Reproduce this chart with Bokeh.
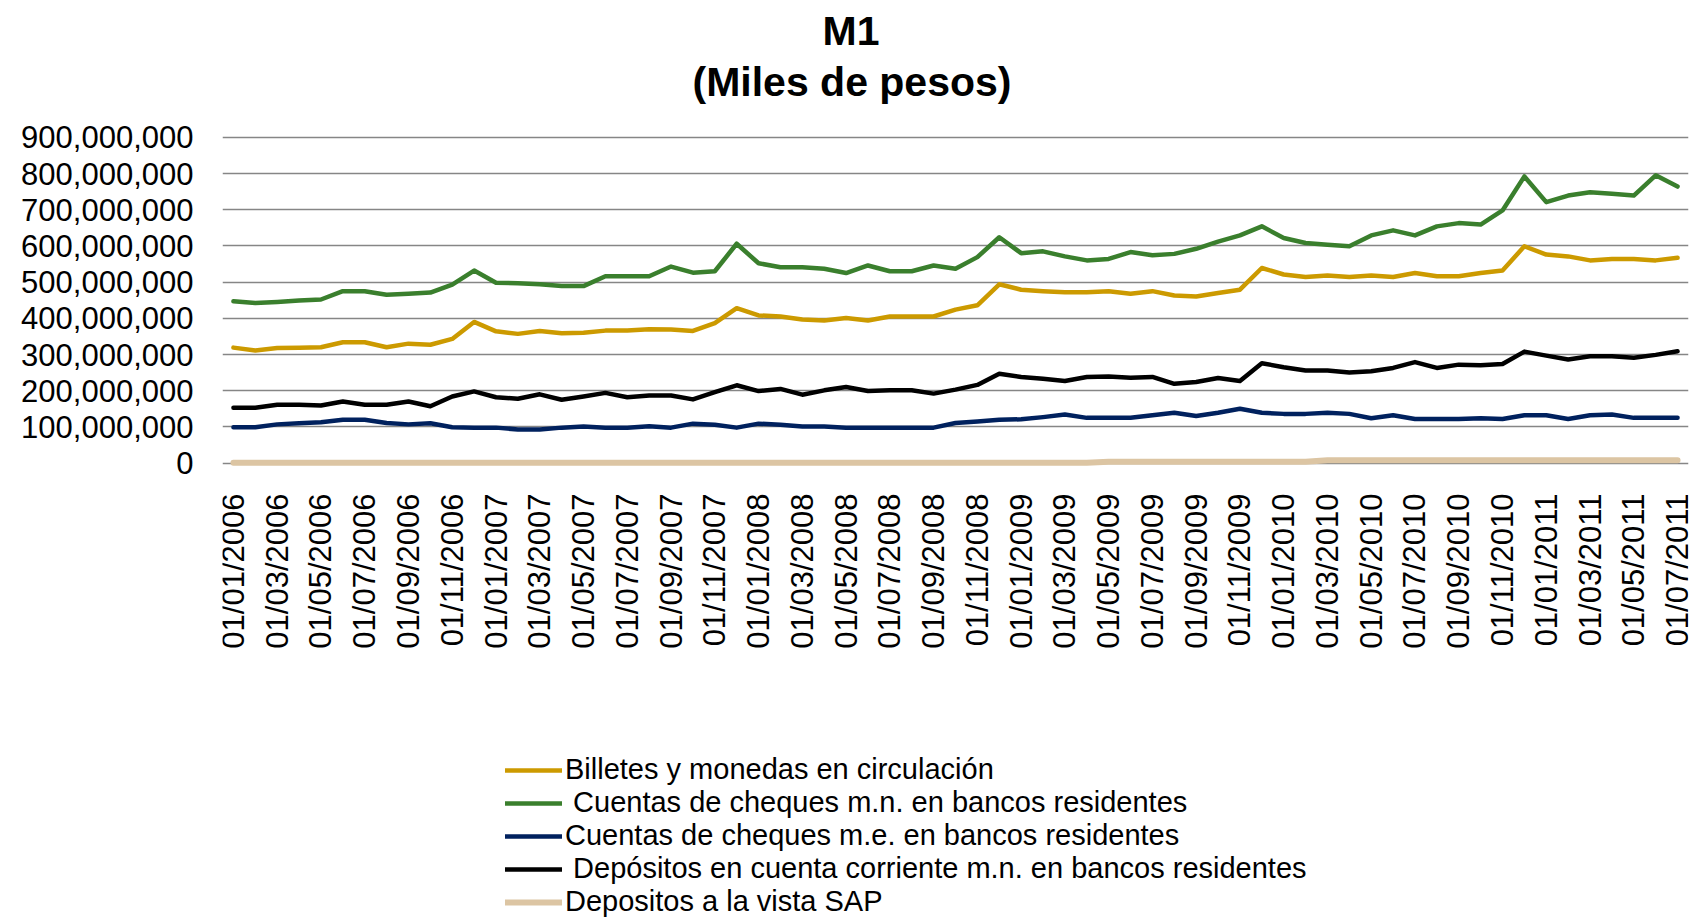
import math
from bokeh.plotting import figure
from bokeh.models import (ColumnDataSource, FixedTicker, NumeralTickFormatter, Legend,
                          LegendItem, Title, Range1d)
from bokeh.core.properties import value
from bokeh.embed import file_html
from bokeh.resources import INLINE

# ---------------- data (miles de pesos, read in millions) ----------------
months = [f"01/{m:02d}/{y}" for y in range(2006, 2012) for m in range(1, 13)][:67]

billetes = [319, 311, 318, 319, 320, 334, 334, 320, 330, 327, 343, 390, 364, 357, 365, 359,
            360, 366, 366, 370, 369, 365, 387, 428, 408, 405, 397, 394, 401, 394, 405, 405,
            405, 424, 436, 494, 479, 475, 472, 472, 475, 468, 475, 463, 460, 470, 479, 539,
            521, 514, 518, 514, 518, 514, 525, 516, 516, 525, 532, 599, 576, 571, 560, 564,
            564, 560, 567]
cheques_mn = [447, 442, 445, 449, 452, 475, 475, 465, 468, 471, 493, 532, 498, 497, 494, 489,
              489, 516, 516, 516, 543, 526, 530, 606, 552, 541, 541, 537, 525, 546, 530, 530,
              546, 537, 569, 624, 580, 585, 571, 560, 564, 583, 574, 578, 592, 612, 629, 654,
              622, 608, 603, 599, 629, 643, 629, 654, 663, 659, 698, 792, 721, 739, 748, 744,
              739, 795, 764]
cheques_me = [99, 99, 107, 110, 113, 120, 120, 111, 107, 110, 99, 98, 98, 93, 93, 98,
              101, 98, 98, 102, 98, 109, 106, 98, 109, 106, 101, 101, 98, 98, 98, 98,
              98, 111, 115, 120, 121, 127, 134, 125, 125, 125, 132, 139, 130, 139, 150, 139,
              136, 136, 139, 136, 124, 132, 122, 122, 122, 124, 122, 132, 132, 122, 132, 134,
              125, 125, 125]
depositos_cc = [153, 153, 161, 161, 159, 170, 161, 161, 170, 157, 184, 198, 182, 178, 190, 175,
                184, 194, 182, 187, 187, 176, 196, 215, 199, 205, 189, 201, 210, 199, 201, 201,
                192, 203, 216, 247, 238, 233, 227, 238, 239, 236, 238, 219, 224, 235, 227, 276,
                265, 256, 256, 250, 254, 263, 279, 263, 272, 270, 274, 308, 297, 286, 295, 295,
                291, 299, 309]
vista_sap = [1, 1, 1, 1, 1, 1, 1, 1, 1, 1, 1, 1, 1, 1, 1, 1,
             1, 1, 1, 1, 1, 1, 1, 1, 1, 1, 1, 1, 1, 1, 1, 1,
             1, 1, 1, 1, 1, 1, 1, 1, 4, 4, 4, 4, 4, 4, 4, 4,
             4, 4, 8, 8, 8, 8, 8, 8, 8, 8, 8, 8, 8, 8, 8, 8,
             8, 8, 8]

y_ticks = [0, 100e6, 200e6, 300e6, 400e6, 500e6, 600e6, 700e6, 800e6, 900e6]

series = [
    ("Billetes y monedas en circulación", billetes, "#CC9A00", 4.5),
    (" Cuentas de cheques m.n. en bancos residentes", cheques_mn, "#3A7F2D", 4.5),
    ("Cuentas de cheques m.e. en bancos residentes", cheques_me, "#00215E", 4.5),
    (" Depósitos en cuenta corriente m.n. en bancos residentes", depositos_cc, "#000000", 4.5),
    ("Depositos a la vista SAP", vista_sap, "#DCC5A3", 6),
]

FONT = "Liberation Sans"

src = ColumnDataSource(dict(x=list(range(len(months))),
                            **{f"s{i}": [v * 1e6 for v in s[1]] for i, s in enumerate(series)}))

tick_idx = list(range(0, len(months), 2))
lab_src = ColumnDataSource(dict(x=tick_idx, y=[-84e6] * len(tick_idx),
                                t=[months[i] for i in tick_idx]))

p = figure(width=1699, height=918, output_backend="svg", toolbar_location=None,
           x_axis_location=None,
           x_range=Range1d(-0.5, len(months) - 0.5), y_range=Range1d(-1258e6, 905e6),
           min_border_left=222, min_border_right=11, min_border_top=135, min_border_bottom=0)
p.outline_line_color = None
p.background_fill_color = "white"

# titles
spacer = Title(text="\u00a0", text_font_size="10px", standoff=18)
t1 = Title(text="(Miles de pesos)", align="left", offset=470, text_font=FONT,
           text_font_size="41px", text_font_style="bold", standoff=0, text_color="black")
t2 = Title(text="M1", align="left", offset=600, text_font=FONT,
           text_font_size="41px", text_font_style="bold", standoff=6, text_color="black")
p.add_layout(spacer, "above")
p.add_layout(t1, "above")
p.add_layout(t2, "above")

# y axis
p.yaxis.ticker = FixedTicker(ticks=y_ticks)
p.yaxis.formatter = NumeralTickFormatter(format="0,0")
p.yaxis.major_label_text_font = FONT
p.yaxis.major_label_text_font_size = "31px"
p.yaxis.major_label_text_color = "black"
p.yaxis.axis_line_color = None
p.yaxis.major_tick_line_color = None
p.yaxis.minor_tick_line_color = None
p.yaxis.major_tick_out = 0
p.yaxis.major_tick_in = 0
p.yaxis.major_label_standoff = 29

p.ygrid.grid_line_color = "#868686"
p.ygrid.grid_line_width = 1.5
p.xgrid.visible = False

# x (category) labels, rotated
p.text(x="x", y="y", text="t", source=lab_src, angle=math.pi / 2,
       text_align="right", text_baseline="middle", text_font=value(FONT),
       text_font_size="31px", text_color="black")

rmap = {}
for i, (name, vals, color, lw) in reversed(list(enumerate(series))):
    r = p.line(x="x", y=f"s{i}", source=src, line_color=color, line_width=lw,
               line_join="round", line_cap="round")
    rmap[i] = r

items = [LegendItem(label=series[i][0], renderers=[rmap[i]]) for i in range(len(series))]
legend = Legend(items=items, location=(283, 0), orientation="vertical",
                glyph_width=57, glyph_height=20, label_standoff=3, padding=0, margin=0,
                spacing=0, border_line_color=None, background_fill_alpha=0,
                label_text_font=FONT, label_text_font_size="29px", label_text_color="black",
                label_text_line_height=1.08)
p.add_layout(legend, "center")

open("out.html", "w").write(file_html(p, INLINE))
